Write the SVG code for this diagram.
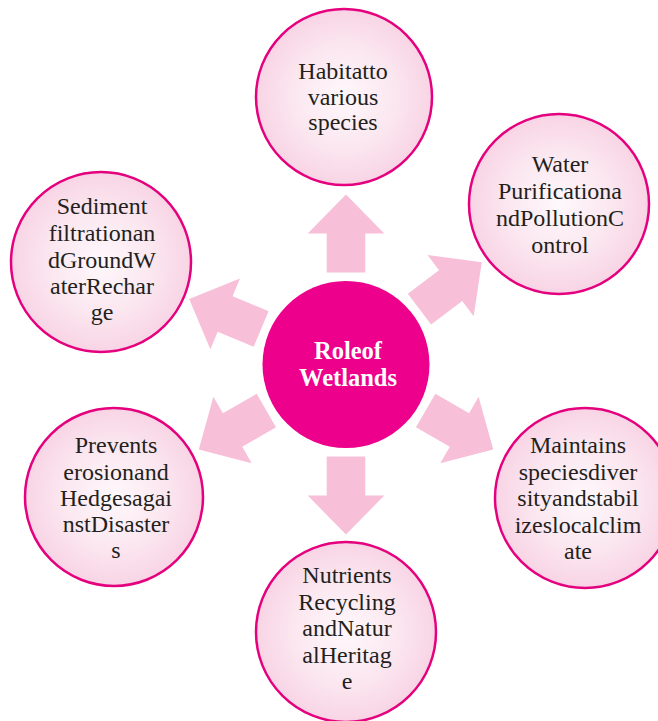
<svg xmlns="http://www.w3.org/2000/svg" width="658" height="721" viewBox="0 0 658 721">
  <defs>
    <radialGradient id="bubble" cx="50%" cy="50%" r="50%">
      <stop offset="0" stop-color="#fef8fb"/>
      <stop offset="0.6" stop-color="#fbe6ef"/>
      <stop offset="1" stop-color="#f8d4e5"/>
    </radialGradient>
    <path id="arrow" d="M92,-19.3 L131,-19.3 L131,-38.3 L170,0 L131,38.3 L131,19.3 L92,19.3 Z"/>
  </defs>
  <style>
    .leaf { fill: url(#bubble); stroke: #e5007e; stroke-width: 2.5; }
    .hub { fill: #ec008c; }
    .arr { fill: #f7bfd8; }
    .lbl { font-family: "Liberation Serif", "Times New Roman", serif; font-size: 24px; fill: #231f20; text-anchor: middle; }
    .hubtxt { font-family: "Liberation Serif", "Times New Roman", serif; font-size: 24.5px; font-weight: bold; fill: #ffffff; text-anchor: middle; }
  </style>
  <rect width="658" height="721" fill="#ffffff"/>

  <!-- arrows radiating from the hub -->
  <g id="connectors" class="arr">
    <use href="#arrow" transform="translate(346,364.5) rotate(-90)"/>
    <use href="#arrow" transform="translate(346,364.5) rotate(-37)"/>
    <use href="#arrow" transform="translate(346,364.5) rotate(30)"/>
    <use href="#arrow" transform="translate(346,364.5) rotate(90)"/>
    <use href="#arrow" transform="translate(346,364.5) rotate(150)"/>
    <use href="#arrow" transform="translate(346,364.5) rotate(-157.3)"/>
  </g>

  <g id="hub">
    <circle class="hub" cx="346" cy="364.5" r="83.5"/>
    <text class="hubtxt" x="348" y="359">Roleof</text>
    <text class="hubtxt" x="348" y="386">Wetlands</text>
  </g>

  <g id="habitat">
    <circle class="leaf" cx="344" cy="97" r="88"/>
    <text class="lbl" x="343" y="79">Habitatto</text>
    <text class="lbl" x="343" y="104.5">various</text>
    <text class="lbl" x="343" y="130">species</text>
  </g>

  <g id="purification">
    <circle class="leaf" cx="559" cy="204" r="90"/>
    <text class="lbl" x="560" y="172">Water</text>
    <text class="lbl" x="560" y="199">Purificationa</text>
    <text class="lbl" x="560" y="226">ndPollutionC</text>
    <text class="lbl" x="560" y="252.5">ontrol</text>
  </g>

  <g id="sediment">
    <circle class="leaf" cx="101" cy="262" r="90"/>
    <text class="lbl" x="102" y="214">Sediment</text>
    <text class="lbl" x="102" y="241">filtrationan</text>
    <text class="lbl" x="102" y="267.5">dGroundW</text>
    <text class="lbl" x="102" y="294">aterRechar</text>
    <text class="lbl" x="102" y="320">ge</text>
  </g>

  <g id="erosion">
    <circle class="leaf" cx="114" cy="497" r="89"/>
    <text class="lbl" x="116" y="453">Prevents</text>
    <text class="lbl" x="116" y="479.5">erosionand</text>
    <text class="lbl" x="116" y="506">Hedgesagai</text>
    <text class="lbl" x="116" y="532">nstDisaster</text>
    <text class="lbl" x="116" y="558">s</text>
  </g>

  <g id="diversity">
    <circle class="leaf" cx="585" cy="498" r="90"/>
    <text class="lbl" x="578" y="452.5">Maintains</text>
    <text class="lbl" x="578" y="479.5">speciesdiver</text>
    <text class="lbl" x="578" y="506">sityandstabil</text>
    <text class="lbl" x="578" y="533">izeslocalclim</text>
    <text class="lbl" x="578" y="559">ate</text>
  </g>

  <g id="nutrients">
    <circle class="leaf" cx="346" cy="632" r="90"/>
    <text class="lbl" x="347" y="583">Nutrients</text>
    <text class="lbl" x="347" y="609.5">Recycling</text>
    <text class="lbl" x="347" y="636">andNatur</text>
    <text class="lbl" x="347" y="662.5">alHeritag</text>
    <text class="lbl" x="347" y="688.5">e</text>
  </g>
</svg>
